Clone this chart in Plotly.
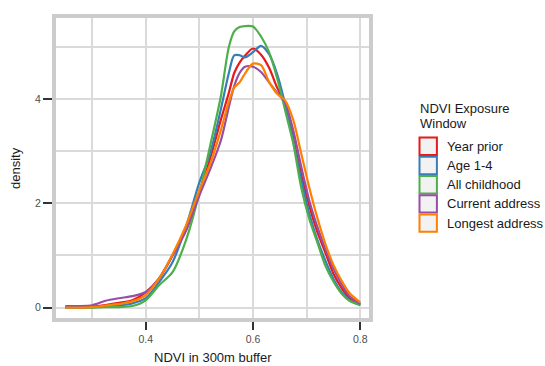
import plotly.graph_objects as go

# ---------------- data ----------------
x_vals = [0.25, 0.275, 0.30, 0.325, 0.35, 0.375, 0.40, 0.425, 0.45, 0.475, 0.50,
          0.52, 0.54, 0.555, 0.565, 0.575, 0.585, 0.60, 0.615, 0.63, 0.645, 0.66,
          0.675, 0.69, 0.705, 0.72, 0.735, 0.75, 0.765, 0.78, 0.80]

year_prior = [0.01, 0.01, 0.02, 0.05, 0.09, 0.14, 0.29, 0.56, 1.00, 1.48, 2.20,
              2.85, 3.60, 4.12, 4.50, 4.70, 4.83, 4.97, 4.85, 4.60, 4.22, 3.90,
              3.25, 2.55, 1.95, 1.45, 1.05, 0.65, 0.38, 0.18, 0.06]

age_1_4 = [0.00, 0.00, 0.01, 0.02, 0.04, 0.08, 0.18, 0.49, 0.87, 1.55, 2.40,
           2.95, 3.80, 4.50, 4.84, 4.84, 4.80, 4.90, 5.02, 4.86, 4.48, 3.90,
           3.20, 2.45, 1.80, 1.30, 0.90, 0.55, 0.30, 0.14, 0.05]

all_childhood = [0.00, 0.00, 0.00, 0.01, 0.01, 0.03, 0.14, 0.43, 0.68, 1.29, 2.20,
                 3.10, 4.05, 5.00, 5.30, 5.38, 5.40, 5.39, 5.20, 4.90, 4.40, 3.78,
                 3.15, 2.30, 1.70, 1.25, 0.80, 0.50, 0.27, 0.13, 0.05]

current_address = [0.03, 0.03, 0.045, 0.13, 0.18, 0.22, 0.30, 0.56, 1.00, 1.48, 2.15,
                   2.65, 3.20, 3.85, 4.25, 4.50, 4.62, 4.62, 4.52, 4.32, 4.12, 3.93,
                   3.40, 2.70, 2.05, 1.55, 1.12, 0.75, 0.45, 0.22, 0.07]

longest_address = [0.00, 0.00, 0.01, 0.04, 0.07, 0.12, 0.24, 0.56, 1.02, 1.57, 2.25,
                   2.75, 3.40, 3.95, 4.22, 4.32, 4.49, 4.68, 4.65, 4.33, 4.10, 3.97,
                   3.60, 2.95, 2.30, 1.72, 1.22, 0.82, 0.52, 0.28, 0.10]

series_names = ["Year prior", "Age 1-4", "All childhood", "Current address", "Longest address"]
series_values = [year_prior, age_1_4, all_childhood, current_address, longest_address]
series_colors = ["#E41A1C", "#377EB8", "#4DAF4A", "#984EA3", "#FF7F00"]

x_tick_vals = [0.4, 0.6, 0.8]
x_tick_text = ["0.4", "0.6", "0.8"]
y_tick_vals = [0, 2, 4]
y_tick_text = ["0", "2", "4"]

legend_title = ["NDVI Exposure", "Window"]

# ---------------- layout geometry ----------------
W, H = 545, 366
ML, MR, MT, MB = 54, 174, 16, 46
PW, PH = W - ML - MR, H - MT - MB

def px_x(px):
    return (px - ML) / PW

def px_y(py):
    return (H - MB - py) / PH

FONT = "Liberation Sans, Arial, Helvetica, sans-serif"
GRID = "#DADADA"

fig = go.Figure()
for name, vals, col in zip(series_names, series_values, series_colors):
    fig.add_trace(go.Scatter(
        x=x_vals, y=vals, mode="lines", name=name,
        line=dict(color=col, width=2.2, shape="spline", smoothing=0.8),
        showlegend=False,
    ))

shapes = [dict(type="rect", xref="paper", yref="paper", x0=0, x1=1, y0=0, y1=1,
               line=dict(color="#CCCCCC", width=4), fillcolor="rgba(0,0,0,0)", layer="above")]
annotations = []

# manual legend
box = 17.4
row_centers = [146.3, 165.5, 184.7, 203.9, 223.1]
for name, col, cy in zip(series_names, series_colors, row_centers):
    shapes.append(dict(type="rect", xref="paper", yref="paper",
                       x0=px_x(419.5), x1=px_x(419.5 + box),
                       y0=px_y(cy + box / 2), y1=px_y(cy - box / 2),
                       line=dict(color=col, width=2), fillcolor="#F2F2F2"))
    annotations.append(dict(text=name, xref="paper", yref="paper", x=px_x(445), y=px_y(cy),
                            xanchor="left", yanchor="middle", showarrow=False,
                            font=dict(family=FONT, size=13, color="#1A1A1A")))
for txt, cy in zip(legend_title, [108.5, 123.5]):
    annotations.append(dict(text=txt, xref="paper", yref="paper", x=px_x(418), y=px_y(cy),
                            xanchor="left", yanchor="middle", showarrow=False,
                            font=dict(family=FONT, size=13, color="#1A1A1A")))

# axis titles
annotations.append(dict(text="NDVI in 300m buffer", xref="paper", yref="paper",
                        x=0.5, y=px_y(357), xanchor="center", yanchor="middle",
                        showarrow=False, font=dict(family=FONT, size=13, color="#1A1A1A")))
annotations.append(dict(text="density", xref="paper", yref="paper",
                        x=px_x(15), y=0.5, xanchor="center", yanchor="middle", textangle=-90,
                        showarrow=False, font=dict(family=FONT, size=13, color="#1A1A1A")))

fig.update_layout(
    width=W, height=H,
    margin=dict(l=ML, r=MR, t=MT, b=MB, pad=0),
    paper_bgcolor="white", plot_bgcolor="white",
    font=dict(family=FONT),
    shapes=shapes, annotations=annotations,
    showlegend=False,
)
fig.update_xaxes(
    range=[0.229, 0.82], tickvals=x_tick_vals, ticktext=x_tick_text,
    showgrid=True, gridcolor=GRID, gridwidth=1.5, zeroline=False, showline=False,
    ticks="outside", ticklen=9, tickwidth=1.5, tickcolor="#333333",
    tickfont=dict(family=FONT, size=10.5, color="#4D4D4D"),
    minor=dict(tickvals=[0.3, 0.5, 0.7], showgrid=True, gridcolor=GRID, gridwidth=1.5, ticks=""),
)
fig.update_yaxes(
    range=[-0.238, 5.593], tickvals=y_tick_vals, ticktext=y_tick_text,
    showgrid=True, gridcolor=GRID, gridwidth=1.5, zeroline=False, showline=False,
    ticks="outside", ticklen=10, tickwidth=1.5, tickcolor="#333333",
    tickfont=dict(family=FONT, size=10.5, color="#4D4D4D"),
    minor=dict(tickvals=[1, 3, 5], showgrid=True, gridcolor=GRID, gridwidth=1.5, ticks=""),
)

fig.write_html(
    "out.html",
    config={"displayModeBar": False},
    post_script="document.body.style.margin='0';document.body.style.overflow='hidden';",
)
